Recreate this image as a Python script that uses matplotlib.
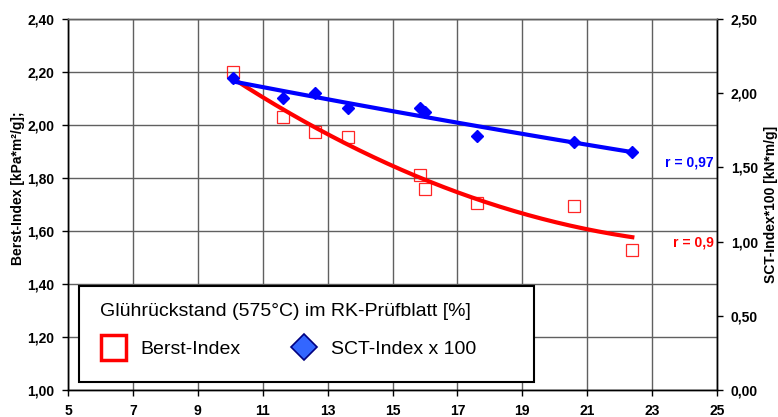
import matplotlib
matplotlib.use("Agg")
import matplotlib.pyplot as plt
from matplotlib.lines import Line2D
from matplotlib.patches import Rectangle
from matplotlib.ticker import FuncFormatter, MultipleLocator, FixedLocator
import numpy as np

plt.rcParams["font.family"] = ["Liberation Sans", "DejaVu Sans"]

# Glührückstand (575°C) im RK-Prüfblatt [%]
gluehrueckstand = [10.09, 11.62, 12.62, 13.62, 15.85, 16.0, 17.6, 20.6, 22.39]
berst_index = [2.20, 2.03, 1.975, 1.955, 1.81, 1.76, 1.705, 1.695, 1.53]
sct_index_x100 = [2.10, 1.97, 2.00, 1.90, 1.90, 1.875, 1.715, 1.673, 1.605]

x_ticks = [5, 7, 9, 11, 13, 15, 17, 19, 21, 23, 25]

r_berst = "r = 0,9"
r_sct = "r = 0,97"

ROT = "#FF0000"
BLAU = "#0000FF"
GITTER = "#606060"


def komma(v, _pos):
    return f"{v:.2f}".replace(".", ",")


fig = plt.figure(figsize=(7.78, 4.17), dpi=100, facecolor="white")
ax = fig.add_axes([0.0874, 0.0647, 0.8342, 0.8897])
ax2 = ax.twinx()

x = np.array(gluehrueckstand)
xs = np.linspace(x.min(), x.max(), 200)

# Trendlinien (Polynom 2. Ordnung, wie in Excel)
p_berst = np.polyfit(x, berst_index, 2)
p_sct = np.polyfit(x, sct_index_x100, 2)

ax.plot(xs, np.polyval(p_berst, xs), color=ROT, lw=3, zorder=3)
ax.plot(x, berst_index, ls="none", marker="s", ms=9.2, mfc="none",
        mec=ROT, mew=0.9, alpha=0.85, zorder=2)

ax2.plot(xs, np.polyval(p_sct, xs), color=BLAU, lw=3, zorder=3)
ax2.plot(x, sct_index_x100, ls="none", marker="D", ms=6.5, mfc=BLAU,
         mec=BLAU, zorder=4)

# Achsen links / unten
ax.set_xlim(5, 25)
ax.set_ylim(1.0, 2.4)
ax.xaxis.set_major_locator(FixedLocator(x_ticks))
ax.yaxis.set_major_locator(MultipleLocator(0.2))
ax.yaxis.set_major_formatter(FuncFormatter(komma))
ax.grid(True, color=GITTER, lw=1.0)
ax.set_axisbelow(True)

ax2.set_ylim(0.0, 2.5)
ax2.yaxis.set_major_locator(MultipleLocator(0.5))
ax2.yaxis.set_major_formatter(FuncFormatter(komma))

for a in (ax, ax2):
    a.tick_params(axis="both", direction="out", length=4, width=1,
                  labelsize=10, pad=6, colors="black")
    for lab in a.get_xticklabels() + a.get_yticklabels():
        lab.set_fontweight("bold")
    for s in a.spines.values():
        s.set_linewidth(1.0)
        s.set_color("black")
    a.spines["top"].set_color(GITTER)
ax.tick_params(axis="x", pad=6)

ax.set_ylabel("Berst-Index [kPa*m²/g];", fontsize=10, fontweight="bold")
ax.yaxis.set_label_coords(-0.066, 0.544)
ax2.set_ylabel("SCT-Index*100 [kN*m/g]", fontsize=10, fontweight="bold",
               labelpad=4)

# Korrelationskoeffizienten
ax2.text(0.995, 1.53, r_sct, transform=ax2.get_yaxis_transform(),
         color=BLAU, fontsize=10, fontweight="bold", ha="right", va="center")
ax.text(0.995, 1.555, r_berst, transform=ax.get_yaxis_transform(),
        color=ROT, fontsize=10, fontweight="bold", ha="right", va="center")

# Legende (Rahmen separat, wie im Excel-Diagramm breiter als der Inhalt)
ax2.add_patch(Rectangle((0.0174, 0.0216), 0.7002, 0.2588,
                        transform=ax2.transAxes, facecolor="white",
                        edgecolor="black", lw=1.5, zorder=5))
handles = [
    Line2D([], [], ls="none", marker="s", ms=18, mfc="white", mec=ROT, mew=2.5),
    Line2D([], [], ls="none", marker="D", ms=13, mfc="#3366FF", mec="#000080",
           mew=1.2),
]
leg = ax2.legend(handles, ["Berst-Index", "SCT-Index x 100"], ncol=2,
                 title="Glührückstand (575°C) im RK-Prüfblatt [%]",
                 title_fontsize=14, fontsize=14, loc="upper left",
                 bbox_to_anchor=(0.0493, 0.2355), frameon=False,
                 borderpad=0, handlelength=1.35, handletextpad=0.72,
                 columnspacing=2.6, labelspacing=1.05, borderaxespad=0)
leg._legend_box.align = "left"
leg.set_zorder(6)

fig.savefig("out.png", dpi=100, facecolor="white")
